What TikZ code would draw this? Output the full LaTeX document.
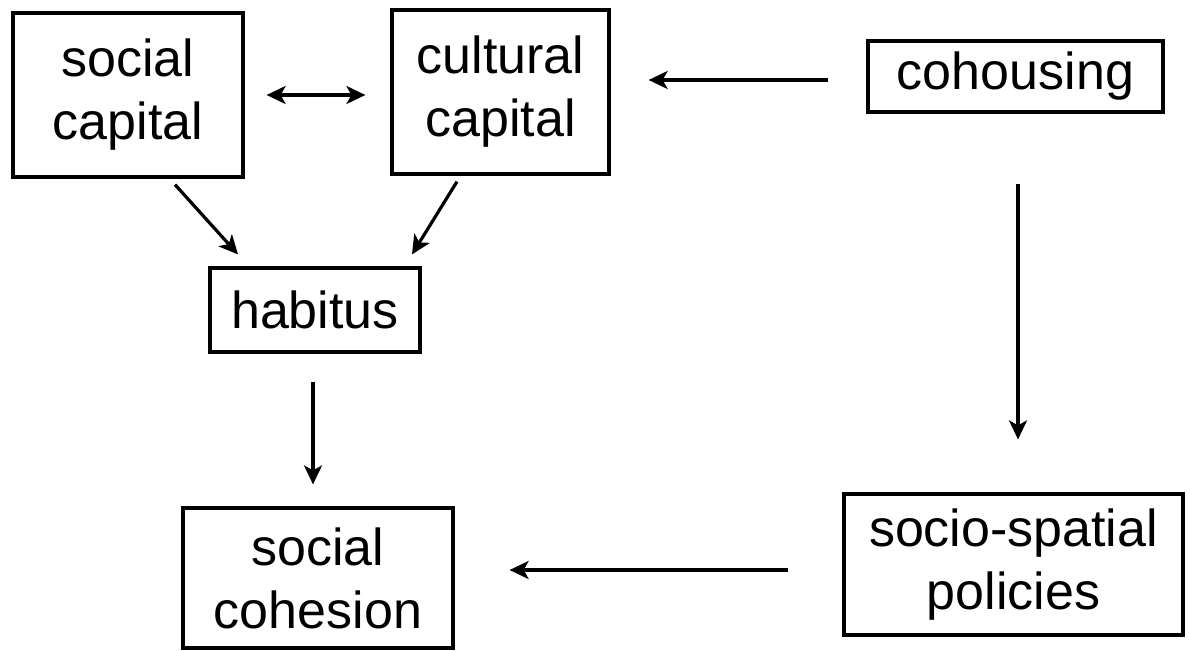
\documentclass[tikz,border=0pt]{standalone}
\usepackage{fontspec}
\setmainfont{Liberation Sans}
\usetikzlibrary{arrows.meta,calc}
\begin{document}
\begin{tikzpicture}[x=1pt,y=-1pt,
  box/.style={draw, line width=3.2pt, inner sep=0pt, align=center,
    font=\fontsize{52}{63}\selectfont},
  arr/.style={line width=3.2pt, -{Stealth[length=19pt,width=18pt,inset=5pt]}},
  darr/.style={line width=3.2pt, {Stealth[length=19pt,width=18pt,inset=5pt]}-{Stealth[length=19pt,width=18pt,inset=5pt]}}]
\useasboundingbox (0,0) rectangle (1190,650);
\node[box, minimum width=230pt, minimum height=164pt] (sc) at (128,95) {social\\capital};
\node[box, minimum width=217pt, minimum height=164pt] (cc) at (500.5,92) {cultural\\capital};
\node[box, minimum width=295pt, minimum height=71pt] (co) at (1015.5,76.5) {cohousing};
\node[box, minimum width=210pt, minimum height=84pt] (hab) at (315,310) {habitus};
\node[box, minimum width=270pt, minimum height=140pt] (coh) at (318,578) {social\\cohesion};
\node[box, minimum width=339pt, minimum height=141pt] (pol) at (1013.5,564.5) {socio-spatial\\policies};
\draw[darr] ($(sc.east)+(22,0)$) -- ($(cc.west)+(-25,3)$);
\draw[arr] ($(co.west)+(-38,3.5)$) -- ($(cc.east)+(38,-12)$);
\draw[arr] ($(sc.south)+(47,6)$) -- ($(hab.north)+(-77,-12)$);
\draw[arr] ($(cc.south)+(-43.5,6)$) -- ($(hab.north)+(97,-12)$);
\draw[arr] ($(hab.south)+(-2,28)$) -- ($(coh.north)+(-5,-22)$);
\draw[arr] ($(co.south)+(2.5,70)$) -- ($(pol.north)+(4.5,-53)$);
\draw[arr] ($(pol.west)+(-54,5.5)$) -- ($(coh.east)+(55,-8)$);
\end{tikzpicture}
\end{document}
